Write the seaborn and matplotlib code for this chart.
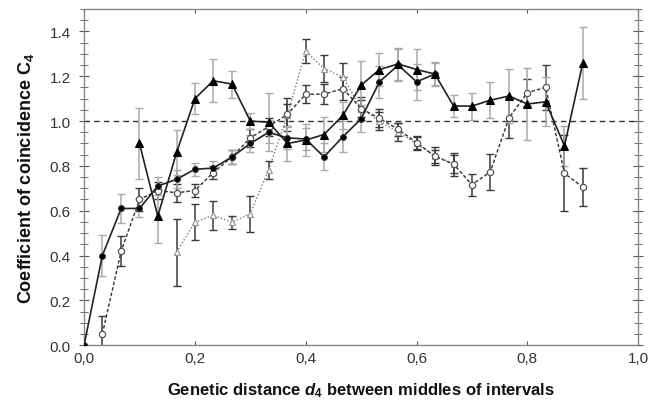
import numpy as np
import matplotlib
matplotlib.use("Agg")
import matplotlib.pyplot as plt
from matplotlib.ticker import MultipleLocator, FuncFormatter
import seaborn as sns

# distances d4 (middle to middle) for the points
d_fc = [0.000, 0.033, 0.067, 0.100, 0.133, 0.167, 0.200, 0.233, 0.267, 0.300,
        0.333, 0.367, 0.400, 0.433, 0.467, 0.500, 0.533, 0.567, 0.600, 0.633]
d_ft = [0.100, 0.133, 0.167, 0.200, 0.233, 0.267, 0.300, 0.333, 0.367, 0.400,
        0.433, 0.467, 0.500, 0.533, 0.567, 0.600, 0.633, 0.667, 0.700, 0.733,
        0.767, 0.800, 0.833, 0.867, 0.900]
d_oc = [0.033, 0.067, 0.100, 0.133, 0.167, 0.200, 0.233, 0.267, 0.300, 0.333,
        0.367, 0.400, 0.433, 0.467, 0.500, 0.533, 0.567, 0.600, 0.633, 0.667,
        0.700, 0.733, 0.767, 0.800, 0.833, 0.867, 0.900]
d_ot = [0.167, 0.200, 0.233, 0.267, 0.300, 0.333, 0.367, 0.400, 0.433, 0.467,
        0.500, 0.533, 0.567, 0.600, 0.633, 0.667]

# coefficient of coincidence C4 and error bars
c_fc = [0.00, 0.40, 0.61, 0.61, 0.71, 0.74, 0.785, 0.79, 0.84, 0.90,
        0.95, 0.925, 0.92, 0.84, 0.93, 1.01, 1.175, 1.25, 1.175, 1.21]
e_fc = [0.00, 0.09, 0.065, 0.04, 0.04, 0.04, 0.03, 0.03, 0.03, 0.04,
        0.05, 0.05, 0.05, 0.06, 0.07, 0.06, 0.07, 0.07, 0.08, 0.05]

c_ft = [0.90, 0.575, 0.86, 1.10, 1.18, 1.165, 1.00, 0.995, 0.90, 0.915,
        0.94, 1.025, 1.16, 1.23, 1.255, 1.23, 1.21, 1.067, 1.067, 1.093,
        1.112, 1.076, 1.086, 0.889, 1.259]
e_ft = [0.16, 0.12, 0.10, 0.07, 0.095, 0.06, 0.035, 0.13, 0.08, 0.07,
        0.08, 0.06, 0.11, 0.075, 0.07, 0.09, 0.055, 0.05, 0.06, 0.08,
        0.12, 0.16, 0.11, 0.09, 0.16]

c_oc = [0.05, 0.42, 0.65, 0.69, 0.68, 0.69, 0.77, 0.84, 0.925, 0.975,
        1.03, 1.12, 1.12, 1.145, 1.056, 1.012, 0.963, 0.904, 0.843, 0.807,
        0.716, 0.773, 1.015, 1.127, 1.15, 0.767, 0.705]
e_oc = [0.08, 0.065, 0.05, 0.04, 0.04, 0.03, 0.03, 0.03, 0.04, 0.04,
        0.075, 0.04, 0.045, 0.05, 0.04, 0.04, 0.03, 0.03, 0.03, 0.05,
        0.05, 0.08, 0.09, 0.06, 0.10, 0.17, 0.085]

c_ot = [0.415, 0.548, 0.579, 0.548, 0.587, 0.782, 1.027, 1.312, 1.234, 1.197,
        1.056, 1.00, 0.95, 0.90, 0.845, 0.81]
e_ot = [0.15, 0.08, 0.065, 0.03, 0.08, 0.04, 0.05, 0.055, 0.06, 0.06,
        0.05, 0.04, 0.04, 0.03, 0.04, 0.04]

sns.set_style("ticks")
plt.rcParams['font.family'] = ['Liberation Sans', 'DejaVu Sans']
plt.rcParams['mathtext.fontset'] = 'custom'
plt.rcParams['mathtext.rm'] = 'Liberation Sans'
plt.rcParams['mathtext.it'] = 'Liberation Sans:italic'
plt.rcParams['mathtext.bf'] = 'Liberation Sans:bold'
plt.rcParams['mathtext.bfit'] = 'Liberation Sans:bold:italic'

fig = plt.figure(figsize=(6.62, 4.02), dpi=100)
ax = fig.add_axes([0.127, 0.139, 0.837, 0.836])

grey_bar = '#a9a9a9'
dark_bar = '#3a3a3a'
cap = 2.6

# error bars first, lines on top
ax.errorbar(d_ot, c_ot, yerr=e_ot, fmt='none', ecolor=dark_bar, elinewidth=1.1, capsize=cap, zorder=2)
ax.errorbar(d_oc, c_oc, yerr=e_oc, fmt='none', ecolor=dark_bar, elinewidth=1.1, capsize=cap, zorder=2)
ax.errorbar(d_ft, c_ft, yerr=e_ft, fmt='none', ecolor=grey_bar, elinewidth=1.1, capsize=cap, zorder=2)
ax.errorbar(d_fc, c_fc, yerr=e_fc, fmt='none', ecolor=grey_bar, elinewidth=1.1, capsize=cap, zorder=2)

ax.axhline(1.0, color='#333333', linestyle=(0, (4, 3)), linewidth=1.0, zorder=1)

sns.lineplot(x=d_ot, y=c_ot, ax=ax, color='#777777', linestyle=(0, (1, 1.5)), linewidth=1.0,
             marker='^', markersize=5, markerfacecolor='white', markeredgecolor='#999999',
             markeredgewidth=0.9, zorder=3)
sns.lineplot(x=d_oc, y=c_oc, ax=ax, color='#333333', linestyle=(0, (2.5, 1.5)), linewidth=1.0,
             marker='o', markersize=4.5, markerfacecolor='white', markeredgecolor='#555555',
             markeredgewidth=0.9, zorder=4)
sns.lineplot(x=d_fc, y=c_fc, ax=ax, color='#222222', linewidth=1.2,
             marker='o', markersize=4.2, markerfacecolor='black', markeredgecolor='#333333',
             zorder=5)
sns.lineplot(x=d_ft, y=c_ft, ax=ax, color='#222222', linewidth=1.2,
             marker='^', markersize=5.5, markerfacecolor='black', markeredgecolor='black',
             zorder=6)

ax.set_xlim(0, 1.0)
ax.set_ylim(0, 1.5)
ax.xaxis.set_major_locator(MultipleLocator(0.2))
ax.xaxis.set_major_formatter(FuncFormatter(lambda v, p: f"{v:.1f}".replace('.', ',')))
ax.yaxis.set_major_locator(MultipleLocator(0.2))
ax.yaxis.set_minor_locator(MultipleLocator(0.05))
ax.yaxis.set_major_formatter(FuncFormatter(lambda v, p: f"{v:.1f}"))

for s in ax.spines.values():
    s.set_color('#888888')
    s.set_linewidth(1.0)

ax.tick_params(axis='x', which='major', direction='in', length=3, top=True, bottom=True,
               color='#555555', labelsize=11, labelcolor='#333333', pad=4)
ax.tick_params(axis='y', which='major', direction='inout', length=7, left=True, right=True,
               color='#555555', labelsize=11, labelcolor='#333333', pad=6)
ax.tick_params(axis='y', which='minor', direction='inout', length=6, left=True, right=True,
               color='#555555')

ax.set_xlabel(r"Genetic distance $\mathbfit{d}_\mathbf{4}$ between middles of intervals",
              fontsize=12, fontweight='bold', color='#111111', labelpad=11)
ax.set_ylabel(r"Coefficient of coincidence $\mathbf{C}_\mathbf{4}$",
              fontsize=13, fontweight='bold', color='#111111', labelpad=10)

fig.savefig("out.png", dpi=100)
